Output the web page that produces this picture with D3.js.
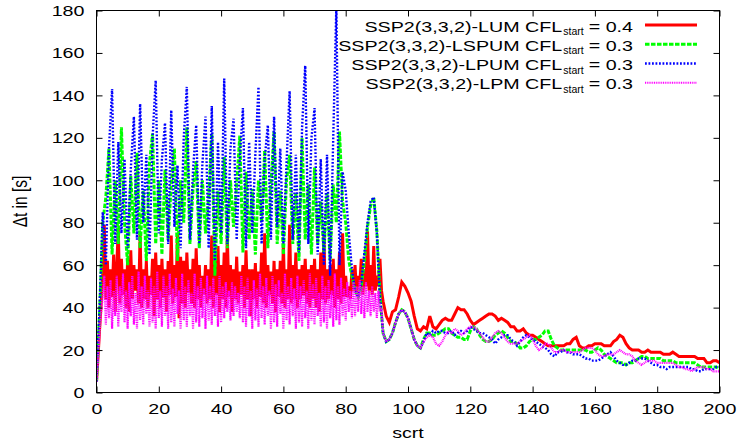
<!DOCTYPE html>
<html>
<head>
<meta charset="utf-8">
<script src="https://cdn.jsdelivr.net/npm/d3@7"></script>
<style>
body { margin: 0; background: #fff; }
text { font-family: "Liberation Sans", Arial, sans-serif; fill: #000; }
</style>
</head>
<body>
<svg id="chart" width="739" height="445"></svg>
<script>
// sampling grids
var unitX = d3.range(0, 201, 1);    // every unit, 0..200
var headX = d3.range(0, 92.5, 0.5); // every half unit, 0..92
var tailX = d3.range(93, 201, 1);   // every unit, 93..200

// LUM, CFL_start = 0.4 (fast part sampled every half unit)
var lumHead = [
  5,17,30,42,55,79,44,62,40,58, 45,65,38,60,77,42,63,46,58,40,
  63,38,67,44,60,48,58,42,75,40, 58,44,62,40,55,46,63,36,66,44,
  60,40,63,45,58,38,62,46,74,42, 60,45,75,35,64,42,62,40,66,47,
  58,42,63,40,68,44,60,40,55,46, 60,42,58,44,74,40,62,46,69,38,
  60,44,66,40,74,45,60,38,58,44, 64,42,57,46,60,40,67,44,58,36,
  58,44,61,40,57,45,66,42,75,40, 60,46,57,42,62,38,58,45,62,42,
  70,40,58,44,79,42,60,44,66,40, 58,44,60,46,63,42,58,40,60,44,
  63,40,58,38,66,44,75,42,58,44, 60,46,63,40,58,44,66,42,75,45,
  55,45,50,44,58,48,60,46,55,50, 63,46,58,50,76,48,60,46,69,48,
  55,50,63,48,43
];
var lumTail = [
  36,33,38,39,45,52,50,
  47,43,36,30,29,31,30,36,31,30, 32,34,35,34,34,37,40,39,39,37,
  34,32,33,34,35,36,37,37,36,34, 35,34,33,31,31,29,29,30,28,27,
  27,26,25,24,23,22,22,22,22,22, 22,23,23,25,26,22,21,21,22,22,
  23,23,23,22,22,22,24,25,27,26, 23,21,20,20,20,19,19,20,19,19,
  19,19,18,18,18,19,18,17,17,17, 17,17,17,16,16,16,14,14,15,15,
  14
];

// LSPUM, CFL_start = 0.3 (every unit)
var lspum = [
  5,38,80,92,115,65,100,70,125,80, 60,102,75,113,68,95,62,108,122,70,
  100,65,105,72,98,115,62,100,80,125, 70,96,109,68,100,75,92,122,55,95,
  70,111,68,100,78,98,121,66,104,72, 96,65,100,80,114,68,98,123,70,95,
  65,100,112,70,94,62,120,72,98,65, 106,70,90,66,94,62,98,80,123,90,
  80,62,55,48,45,50,62,78,88,92, 76,46,28,24,25,28,33,37,39,38,
  35,30,25,22,21,25,28,28,27,27, 28,29,30,30,28,27,26,26,25,25,
  29,31,30,27,25,24,24,25,27,28, 29,28,26,24,24,23,21,21,22,24,
  25,25,26,27,29,29,25,22,21,20, 20,20,20,20,20,20,20,20,19,19,
  20,21,20,18,17,16,15,14,14,14, 13,14,14,15,16,17,17,16,16,16,
  16,16,15,15,15,15,14,14,14,14, 14,14,14,13,12,12,12,12,12,12,
  11
];

// LPUM, CFL_start = 0.3 (every unit)
var lpum = [
  5,40,85,60,115,143,70,118,75,110, 68,105,130,72,136,80,112,65,120,147,
  75,110,127,70,133,78,107,68,120,144, 72,105,126,70,108,130,68,135,62,118,
  75,148,70,115,129,72,110,134,68,118, 75,112,144,70,110,126,72,130,78,115,
  70,108,142,72,112,66,125,154,70,120, 134,65,110,60,112,55,120,182,60,104,
  95,75,58,48,45,52,66,80,90,92, 75,45,28,24,25,28,33,37,39,38,
  35,30,25,22,21,24,28,27,29,28, 29,29,28,28,29,27,28,29,28,29,
  31,30,29,28,28,27,26,25,23,25, 26,27,27,25,24,22,24,26,27,26,
  25,24,23,22,21,20,18,17,19,19, 20,19,19,18,18,18,17,16,16,15,
  15,15,16,17,18,19,17,15,14,13, 13,14,15,15,16,16,16,15,14,13,
  13,12,12,11,12,12,12,12,12,12, 12,11,11,10,10,11,11,11,11,12,
  12
];

// LPM, CFL_start = 0.3 (fast part sampled every half unit)
var lpmHead = [
  5,16,28,38,45,55,32,50,35,53, 30,48,36,55,31,50,38,56,33,48,
  30,52,36,55,32,47,30,57,34,50, 32,55,37,48,31,54,33,50,30,57,
  35,48,31,55,36,50,30,56,33,49, 31,54,37,48,30,56,34,50,31,53,
  36,47,30,56,33,50,31,54,35,49, 30,55,34,50,32,54,36,47,31,55,
  33,50,35,52,38,48,34,52,36,50, 38,47,35,55,33,50,31,54,36,48,
  30,53,34,49,31,56,35,50,32,54, 36,48,30,55,33,51,31,53,37,47,
  30,56,34,50,32,54,36,49,30,55, 33,50,31,53,35,48,30,56,34,51,
  32,54,36,47,31,55,33,50,30,53, 35,48,31,56,34,50,32,54,36,49,
  34,52,38,48,35,52,36,50,38,53, 37,50,35,52,38,48,36,50,38,47,
  35,48,38,40,28
];
var lpmTail = [
  24,25,28,33,37,39,38,
  35,30,25,22,21,24,26,27,26,23, 22,24,27,29,28,30,29,27,28,30,
  31,31,30,28,26,24,24,26,28,29, 28,26,24,23,23,23,24,25,26,27,
  25,22,20,21,23,23,21,19,19,20, 20,19,19,19,19,19,20,21,21,21,
  20,18,17,17,18,18,18,19,20,19, 18,18,17,15,14,13,14,15,15,15,
  14,14,14,14,14,14,13,12,12,11, 11,10,11,12,12,12,11,11,10,10,
  10
];

var seriesNames = ["SSP2(3,3,2)-LUM", "SSP2(3,3,2)-LSPUM", "SSP2(3,3,2)-LPUM", "SSP2(3,3,2)-LPM"];
var cflStart = ["0.4", "0.3", "0.3", "0.3"];
var xTicks = [0, 20, 40, 60, 80, 100, 120, 140, 160, 180, 200];
var yTicks = [0, 20, 40, 60, 80, 100, 120, 140, 160, 180];

var svg = d3.select("#chart");
var sx = 1.27; // the picture is stretched horizontally
var fontSize = 15.5;

var x = d3.scaleLinear().domain([0, 200]).range([96.5, 719.5]);
var y = d3.scaleLinear().domain([0, 180]).range([392.5, 10.5]);

// line styles, gnuplot order
var styles = [
  {color: "#ff0000", width: 3, dash: null},
  {color: "#00ff00", width: 3, dash: "4.5,1.5"},
  {color: "#0000ff", width: 2.4, dash: "1.8,1.7"},
  {color: "#ff00ff", width: 2.2, dash: "1,0.8"}
];

function pair(xs, ys) {
  return ys.map(function(v, i) { return [xs[i], v]; });
}
var allSeries = [
  pair(headX, lumHead).concat(pair(tailX, lumTail)),
  pair(unitX, lspum),
  pair(unitX, lpum),
  pair(headX, lpmHead).concat(pair(tailX, lpmTail))
];

svg.append("clipPath").attr("id", "plotclip")
  .append("rect")
  .attr("x", x(0)).attr("y", y(180))
  .attr("width", x(200) - x(0)).attr("height", y(0) - y(180));

var line = d3.line()
  .x(function(d) { return x(d[0]); })
  .y(function(d) { return y(d[1]); });

var plot = svg.append("g").attr("clip-path", "url(#plotclip)");
allSeries.forEach(function(s, k) {
  plot.append("path")
    .datum(s)
    .attr("d", line)
    .attr("fill", "none")
    .attr("stroke", styles[k].color)
    .attr("stroke-width", styles[k].width)
    .attr("stroke-dasharray", styles[k].dash)
    .attr("stroke-linejoin", "miter")
    .attr("stroke-miterlimit", 3);
});

// axes: inward ticks on all four sides
function styleAxis(g) {
  g.attr("font-size", fontSize).attr("font-family", null);
  g.select(".domain").remove();
  g.selectAll(".tick line").attr("stroke", "#000");
}

svg.append("g")
  .attr("transform", "translate(" + x(0) + ",0)")
  .call(d3.axisLeft(y).tickValues(yTicks).tickSizeInner(-6).tickSizeOuter(0).tickPadding(12))
  .call(styleAxis)
  .selectAll(".tick text")
  .attr("x", -12 / sx)
  .attr("transform", "scale(" + sx + ",1)");

svg.append("g")
  .attr("transform", "translate(" + x(200) + ",0)")
  .call(d3.axisRight(y).tickValues(yTicks).tickSizeInner(-6).tickSizeOuter(0).tickFormat(""))
  .call(styleAxis);

svg.append("g")
  .attr("transform", "translate(0," + y(0) + ")")
  .call(d3.axisBottom(x).tickValues(xTicks).tickSizeInner(-6).tickSizeOuter(0).tickPadding(11))
  .call(styleAxis)
  .selectAll(".tick text")
  .attr("transform", "scale(" + sx + ",1)");

svg.append("g")
  .attr("transform", "translate(0," + y(180) + ")")
  .call(d3.axisTop(x).tickValues(xTicks).tickSizeInner(-6).tickSizeOuter(0).tickFormat(""))
  .call(styleAxis);

// border
svg.append("rect")
  .attr("x", x(0)).attr("y", y(180))
  .attr("width", x(200) - x(0)).attr("height", y(0) - y(180))
  .attr("fill", "none").attr("stroke", "#000").attr("stroke-width", 1);

// axis titles
svg.append("text")
  .attr("transform", "translate(" + ((x(0) + x(200)) / 2) + ",438) scale(" + sx + ",1)")
  .attr("text-anchor", "middle")
  .attr("font-size", fontSize)
  .text("scrt");

svg.append("text")
  .attr("transform", "translate(27," + ((y(0) + y(180)) / 2) + ") scale(" + sx + ",1) rotate(-90)")
  .attr("text-anchor", "middle")
  .attr("font-size", fontSize)
  .text("\u0394t in [s]");

// legend
var legendRight = 633;
seriesNames.forEach(function(name, k) {
  var cy = 25 + k * 19.25;
  var base = cy + 6.7;

  var g1 = svg.append("g").attr("transform", "translate(" + legendRight + "," + base + ") scale(" + sx + ",1)");
  var t1 = g1.append("text").attr("text-anchor", "end").attr("font-size", fontSize).text("= " + cflStart[k]);
  var w1 = t1.node().getComputedTextLength() * sx + 5;

  var t2 = svg.append("text")
    .attr("x", legendRight - w1).attr("y", base + 3.3)
    .attr("text-anchor", "end").attr("font-size", 10.5)
    .text("start");
  var w2 = t2.node().getComputedTextLength() + 1;

  var g3 = svg.append("g").attr("transform", "translate(" + (legendRight - w1 - w2) + "," + base + ") scale(" + sx + ",1)");
  g3.append("text").attr("text-anchor", "end").attr("font-size", fontSize).text(name + " CFL");

  svg.append("line")
    .attr("x1", 645).attr("x2", 697)
    .attr("y1", cy).attr("y2", cy)
    .attr("stroke", styles[k].color)
    .attr("stroke-width", styles[k].width)
    .attr("stroke-dasharray", styles[k].dash);
});
</script>
</body>
</html>
